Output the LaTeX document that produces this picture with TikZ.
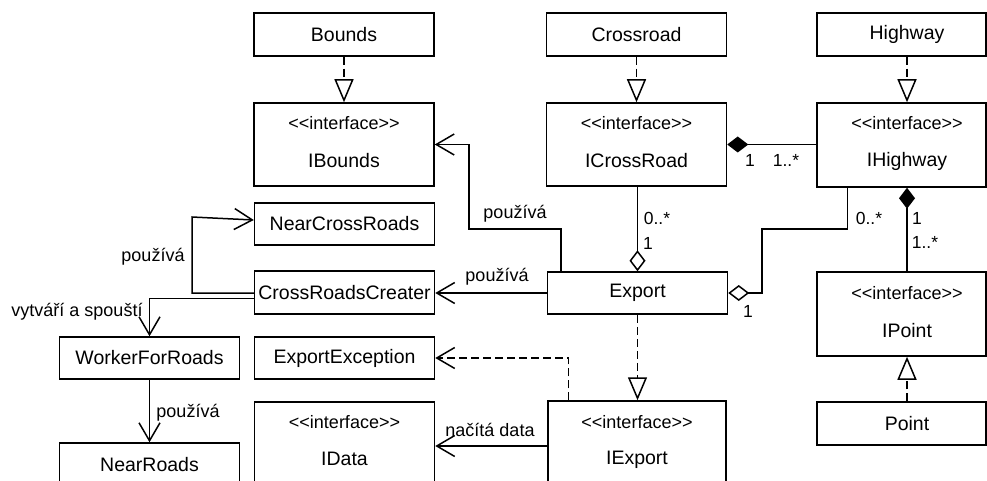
\documentclass[tikz,border=0pt]{standalone}
\usepackage{fontspec}
\newfontfamily\umlfont{Liberation Sans}
\usetikzlibrary{arrows.meta}

\tikzset{
  cls/.style={draw, line width=1.5pt, minimum width=180pt, minimum height=43pt,
              inner sep=0pt, font=\umlfont\fontsize{19.5}{22}\selectfont},
  iface/.style={cls, minimum height=83pt},
  stereo/.style={inner sep=0pt, font=\umlfont\fontsize{18}{20}\selectfont},
  iname/.style={inner sep=0pt, font=\umlfont\fontsize{19.5}{22}\selectfont},
  lbl/.style={inner sep=0pt, font=\umlfont\fontsize{18}{20}\selectfont},
  mult/.style={inner sep=0pt, font=\umlfont\fontsize{17.5}{20}\selectfont},
  conn/.style={line width=1.5pt},
  uses/.style={conn, -{Straight Barb[length=18pt,width=21pt,line width=1.5pt]}},
  realizes/.style={conn, dash pattern=on 8pt off 4pt,
                   -{Triangle[open,length=23pt,width=19pt,fill=white,line width=1.5pt]}},
  depends/.style={conn, dash pattern=on 8pt off 4pt,
                  -{Straight Barb[length=18pt,width=21pt,line width=1.5pt]}},
  aggr/.style={conn, {Diamond[open,length=21pt,width=16pt,fill=white,line width=1.5pt]}-},
  compo/.style={conn, {Diamond[length=21pt,width=16pt,line width=1.5pt]}-},
}

\begin{document}
\begin{tikzpicture}[x=1pt, y=-1pt]
\useasboundingbox (0,0) rectangle (987,481);
\clip (0,0) rectangle (987,481);

% implementing classes (top row)
\node[cls] (bounds)    at (344,34.5)   {Bounds};
\node[cls] (crossroad) at (636.5,34.5) {Crossroad};
\node[cls, minimum width=169pt] (highway) at (901.5,34.5) {\hspace*{11pt}Highway};

% interfaces (second row)
\node[iface] (ibounds)    at (344,144.5)   {};
\node[iface] (icrossroad) at (636.5,144.5) {};
\node[iface, minimum width=169pt, minimum height=84pt] (ihighway) at (901.5,145) {};
\node[stereo] (ibounds-s)    at (344,123)   {<<interface>>};
\node[iname]  (ibounds-n)    at (344,161)   {IBounds};
\node[stereo] (icrossroad-s) at (636.5,123) {<<interface>>};
\node[iname]  (icrossroad-n) at (636.5,161) {ICrossRoad};
\node[stereo] (ihighway-s)   at (907,123)   {<<interface>>};
\node[iname]  (ihighway-n)   at (907,161)   {IHighway};

% middle classes
\node[cls, minimum height=42pt] (nearcross) at (344.5,224)  {NearCrossRoads};
\node[cls] (crc)    at (344.5,292.5) {CrossRoadsCreater};
\node[cls, minimum height=42pt] (export) at (637.5,293) {Export};
\node[cls, minimum height=42pt] (exexc)  at (344.5,358) {ExportException};
\node[cls, minimum height=42pt] (worker) at (149.5,358) {WorkerForRoads};
\node[cls] (nearroads) at (149.5,464.5) {NearRoads};

\node[iface, minimum width=169pt, minimum height=84pt] (ipoint) at (901.5,314) {};
\node[stereo] (ipoint-s) at (907,293) {<<interface>>};
\node[iname]  (ipoint-n) at (907,331) {IPoint};
\node[cls, minimum width=169pt] (point) at (901.5,423.5) {\hspace*{11pt}Point};

% bottom interfaces
\node[iface] (idata)   at (344.5,443.5) {};
\node[stereo] (idata-s) at (344.5,422) {<<interface>>};
\node[iname]  (idata-n) at (344.5,459) {IData};
\node[iface, minimum width=178pt] (iexport) at (637,442.5) {};
\node[stereo] (iexport-s) at (637,422) {<<interface>>};
\node[iname]  (iexport-n) at (637,460) {IExport};

% helper coordinates for bends
\coordinate (rc) at (907,0);
\coordinate (hbend) at (762,229);
\coordinate (bbend) at (469,229);
\coordinate (nbend) at (192,217);

% realizations
\draw[realizes] (bounds.south) -- (ibounds.north);
\draw[realizes] (crossroad.south) -- (icrossroad.north);
\draw[realizes] (highway.south -| rc) -- (ihighway.north -| rc);
\draw[realizes] (point.north -| rc) -- (ipoint.south -| rc);
\draw[realizes] (export.south) -- (export.south |- iexport.north);

% compositions
\draw[compo] (icrossroad.east) -- (ihighway.west |- icrossroad.east);
\node[mult] (m1) at (750,160) {1};
\node[mult] (m2) at (786,160) {1..*};
\draw[compo] (ihighway.south -| rc) -- (ipoint.north -| rc);
\node[mult] (m3) at (917,218) {1};
\node[mult] (m4) at (925,242) {1..*};

% aggregations into Export
\draw[aggr] (export.north) -- (export.north |- icrossroad.south);
\node[mult] (m5) at (657,218) {0..*};
\node[mult] (m6) at (648,243) {1};
\draw[aggr] (export.east) -| (hbend) -| ([xshift=31pt]ihighway.south west);
\node[mult] (m7) at (869,218) {0..*};
\node[mult] (m8) at (748,311) {1};

% usages
\draw[uses] ([xshift=14pt]export.north west) |- (bbend) |- (ibounds.east);
\node[lbl] (l1) at (515,214) {používá};
\draw[uses] (export.west) -- (crc.east |- export.west);
\node[lbl] (l2) at (497,277) {používá};
\draw[uses] (crc.west |- export.west) -| (nbend) -- ([yshift=4pt]nearcross.west);
\node[lbl] (l3) at (153,257) {používá};
\draw[uses] ([yshift=-6pt]crc.west) -| (worker.north);
\node[lbl] (l4) at (77,312) {vytváří a spouští};
\draw[uses] (worker.south) -- (nearroads.north);
\node[lbl] (l5) at (188,413) {používá};
\draw[depends] ([xshift=21pt]iexport.north west) |- (exexc.east);
\draw[uses] ([yshift=-3.5pt]iexport.west) -- (idata.east |- 0,446);
\node[lbl] (l6) at (490,430) {načítá data};
\end{tikzpicture}
\end{document}
